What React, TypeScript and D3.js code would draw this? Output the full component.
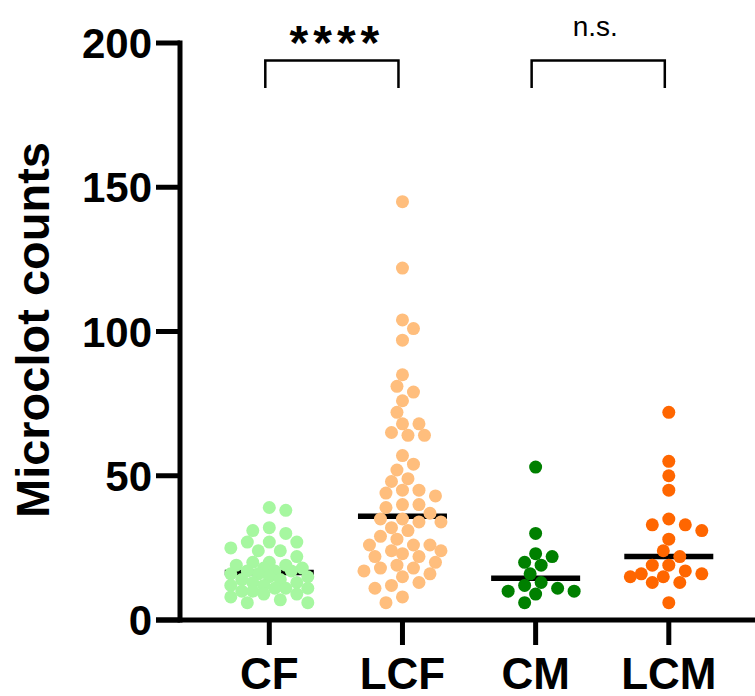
import React from "react";
import * as d3 from "d3";

const categories = ["CF", "LCF", "CM", "LCM"];
const colors = ["#a6f7a0", "#ffbe7d", "#008000", "#ff6600"];

const cfValues = [39, 38, 32, 31, 30, 27, 27, 27, 25, 24, 24, 22, 20, 20, 19, 19, 18, 18, 17, 17, 17, 16, 16, 15, 15, 14, 14, 13, 13, 12, 12, 11, 11, 11, 10, 10, 9, 9, 8, 7, 6, 6];
const lcfValues = [145, 122, 104, 101, 97, 85, 81, 79, 76, 72, 68, 68, 65, 64, 64, 57, 54, 52, 49, 48, 45, 45, 44, 43, 40, 40, 39, 37, 35, 35, 34, 34, 32, 31, 29, 28, 26, 26, 26, 24, 24, 23, 22, 22, 20, 19, 18, 18, 17, 16, 15, 13, 12, 11, 8, 6];
const cmValues = [53, 30, 23, 22, 20, 19, 16, 13, 12, 11, 10, 10, 9, 6];
const lcmValues = [72, 55, 50, 45, 35, 33, 33, 31, 28, 24, 22, 19, 19, 17, 16, 16, 15, 15, 13, 13, 6];

const seriesValues = [cfValues, lcfValues, cmValues, lcmValues];
const yTicks = [0, 50, 100, 150, 200];
const comparisons = [
  { a: "CF", b: "LCF", label: "****" },
  { a: "CM", b: "LCM", label: "n.s." },
];

const FONT = "'Liberation Sans', Arial, Helvetica, sans-serif";

function swarm(values: number[], y: (v: number) => number, step: number, minDist: number, maxOff: number) {
  const sorted = [...values].sort((a, b) => b - a);
  const placed: { dx: number; y: number; v: number }[] = [];
  let flip = 1;
  const kMax = Math.floor(maxOff / step);
  for (const v of sorted) {
    const py = y(v);
    let best: number | null = null;
    let fallback = 0;
    let fallbackScore = -1;
    for (let k = 0; k <= kMax && best === null; k++) {
      const cands = k === 0 ? [0] : [flip * k * step, -flip * k * step];
      for (const dx of cands) {
        const dmin = placed.length
          ? Math.min(...placed.map((q) => Math.hypot(q.dx - dx, q.y - py)))
          : Infinity;
        if (dmin >= minDist) {
          best = dx;
          break;
        }
        if (dmin > fallbackScore) {
          fallbackScore = dmin;
          fallback = dx;
        }
      }
    }
    if (best === null) best = fallback;
    if (best !== 0) flip = -flip;
    placed.push({ dx: best, y: py, v });
  }
  return placed;
}

export default function App() {
  const W = 755;
  const H = 696;
  const y = d3.scaleLinear().domain([0, 200]).range([620, 43]);
  const x = d3.scalePoint<string>().domain(categories).range([269.3, 668.8]);
  const axisX = 180;
  const axisY = y(0);

  return (
    <svg
      width={W}
      height={H}
      style={{ position: "absolute", left: 0, top: 0, background: "#fff" }}
      fontFamily={FONT}
    >
      {/* y axis */}
      <line x1={axisX} x2={axisX} y1={y(200)} y2={axisY} stroke="#000" strokeWidth={5} strokeLinecap="square" />
      {yTicks.map((t) => (
        <g key={t}>
          <line x1={156} x2={axisX} y1={y(t)} y2={y(t)} stroke="#000" strokeWidth={5} />
          <text x={152} y={y(t) + 15} textAnchor="end" fontSize={42} fontWeight="bold" fill="#000">
            {t}
          </text>
        </g>
      ))}
      {/* x axis */}
      <line x1={156} x2={W} y1={axisY} y2={axisY} stroke="#000" strokeWidth={5} />
      {categories.map((c) => (
        <g key={c}>
          <line x1={x(c)} x2={x(c)} y1={axisY} y2={axisY + 25} stroke="#000" strokeWidth={5} />
          <text x={x(c)} y={689} textAnchor="middle" fontSize={44} fontWeight="bold" fill="#000">
            {c}
          </text>
        </g>
      ))}
      {/* y title */}
      <text
        transform={`translate(49, 330) rotate(-90)`}
        textAnchor="middle"
        fontSize={47}
        fontWeight="bold"
        fill="#000"
      >
        Microclot counts
      </text>
      {/* medians and points */}
      {categories.map((c, i) => {
        const vals = seriesValues[i];
        const cx = x(c) as number;
        const med = d3.median(vals) as number;
        const pts = swarm(vals, y, 5.5, 12.5, 38.5);
        return (
          <g key={c}>
            <line x1={cx - 44.5} x2={cx + 44.5} y1={y(med)} y2={y(med)} stroke="#000" strokeWidth={5.5} />
            {pts.map((p, j) => (
              <circle key={j} cx={cx + p.dx} cy={p.y} r={6.5} fill={colors[i]} />
            ))}
          </g>
        );
      })}
      {/* significance brackets */}
      {comparisons.map((cmp, i) => {
        const x1 = (x(cmp.a) as number) - 4;
        const x2 = (x(cmp.b) as number) - 4;
        const top = 60.5;
        const mid = (x1 + x2) / 2;
        return (
          <g key={cmp.label}>
            <path d={`M${x1},88 V${top} H${x2} V88`} fill="none" stroke="#000" strokeWidth={2.5} />
            {i === 0 ? (
              <text x={mid + 5} y={59} textAnchor="middle" fontSize={48} fontWeight="bold" letterSpacing={5} fill="#000">
                {cmp.label}
              </text>
            ) : (
              <text x={mid - 3} y={36} textAnchor="middle" fontSize={28} fill="#000">
                {cmp.label}
              </text>
            )}
          </g>
        );
      })}
    </svg>
  );
}
